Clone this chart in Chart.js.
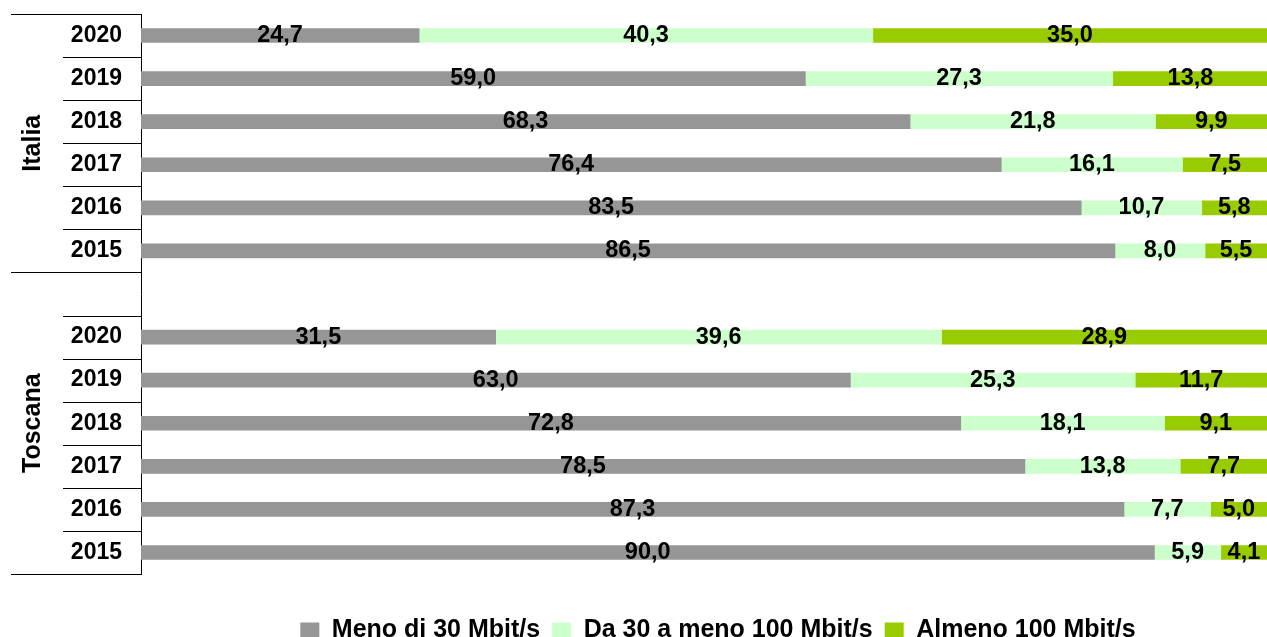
<!DOCTYPE html>
<html lang="it">
<head>
<meta charset="utf-8">
<title>Velocità di connessione</title>
<script src="https://cdn.jsdelivr.net/npm/chart.js@4/dist/chart.umd.min.js"></script>
<style>
  html, body { margin: 0; padding: 0; background: #ffffff; }
  #wrap { position: relative; width: 1267px; height: 637px; }
</style>
</head>
<body>
<div id="wrap"><canvas id="chart"></canvas></div>
<script>
// Row labels: Italia block, an empty spacer row, then Toscana block
const years = ['2020', '2019', '2018', '2017', '2016', '2015'];
const rowLabels = [...years, '', ...years];
const groupNames = ['Italia', 'Toscana'];

// Shares (%) by speed class; null on the spacer row
const meno30    = [24.7, 59.0, 68.3, 76.4, 83.5, 86.5, null, 31.5, 63.0, 72.8, 78.5, 87.3, 90.0];
const da30a100  = [40.3, 27.3, 21.8, 16.1, 10.7,  8.0, null, 39.6, 25.3, 18.1, 13.8,  7.7,  5.9];
const almeno100 = [35.0, 13.8,  9.9,  7.5,  5.8,  5.5, null, 28.9, 11.7,  9.1,  7.7,  5.0,  4.1];

const seriesNames = ['Meno di 30 Mbit/s', 'Da 30 a meno 100 Mbit/s', 'Almeno 100 Mbit/s'];
const seriesColors = ['#969696', '#CCFFCC', '#99CC00'];

const FONT = "'Liberation Sans', Arial, Helvetica, sans-serif";
Chart.defaults.font.family = FONT;
Chart.defaults.color = '#000000';

// Values printed in the middle of each segment, Italian decimal comma
const segmentLabels = {
  id: 'segmentLabels',
  afterDatasetsDraw(chart) {
    const ctx = chart.ctx;
    ctx.save();
    ctx.font = 'bold 23.5px ' + FONT;
    ctx.fillStyle = '#000000';
    ctx.textAlign = 'center';
    ctx.textBaseline = 'middle';
    chart.data.datasets.forEach((ds, di) => {
      const meta = chart.getDatasetMeta(di);
      meta.data.forEach((bar, i) => {
        const v = ds.data[i];
        if (v === null || v === undefined) return;
        const cx = (bar.x + bar.base) / 2;
        ctx.fillText(v.toFixed(1).replace('.', ','), cx, bar.y);
      });
    });
    ctx.restore();
  }
};

// Row separators on the left side and the rotated group names
const rowFrame = {
  id: 'rowFrame',
  afterLayout(chart) {
    // nudge the legend row a little to the right of the plot centre
    chart.legend.left += 14;
    chart.legend.right += 14;
  },
  afterDraw(chart) {
    const ctx = chart.ctx;
    const y = chart.scales.y;
    const axisX = chart.chartArea.left;
    const n = rowLabels.length;
    const groupEdges = [0, 6, n];
    ctx.save();
    ctx.strokeStyle = '#000000';
    ctx.lineWidth = 1;
    for (let k = 0; k <= n; k++) {
      const py = Math.round(y.getPixelForValue(k - 0.5)) + 0.5;
      const x0 = groupEdges.includes(k) ? 11 : 63;
      ctx.beginPath();
      ctx.moveTo(x0, py);
      ctx.lineTo(axisX, py);
      ctx.stroke();
    }
    // group names centred on their block of rows
    const spans = [[0, 6], [6, n]];
    ctx.font = 'bold 25px ' + FONT;
    ctx.fillStyle = '#000000';
    ctx.textAlign = 'center';
    ctx.textBaseline = 'middle';
    spans.forEach((s, gi) => {
      const top = y.getPixelForValue(s[0] - 0.5);
      const bottom = y.getPixelForValue(s[1] - 0.5);
      ctx.save();
      ctx.translate(33, (top + bottom) / 2);
      ctx.rotate(-Math.PI / 2);
      ctx.fillText(groupNames[gi], 0, 0);
      ctx.restore();
    });
    ctx.restore();
  }
};

new Chart(document.getElementById('chart'), {
  type: 'bar',
  data: {
    labels: rowLabels,
    datasets: seriesNames.map((name, i) => ({
      label: name,
      data: [meno30, da30a100, almeno100][i],
      backgroundColor: seriesColors[i],
      borderWidth: 0,
      barThickness: 14
    }))
  },
  options: {
    indexAxis: 'y',
    responsive: true,
    maintainAspectRatio: false,
    animation: false,
    layout: { padding: { top: 14, right: 0, left: 0, bottom: -16 } },
    scales: {
      x: {
        stacked: true,
        min: 0,
        max: 100,
        grid: { display: false },
        border: { display: false },
        ticks: { display: false },
        afterFit(scale) { scale.height = 32; }
      },
      y: {
        stacked: true,
        grid: { display: false },
        border: { display: true, color: '#000000', width: 1 },
        ticks: {
          padding: 11,
          color: '#000000',
          font: { size: 23, weight: 'bold', family: FONT }
        },
        afterFit(scale) {
          scale.width = 141;
          scale.paddingTop = 0;
          scale.paddingBottom = 0;
        }
      }
    },
    plugins: {
      legend: {
        position: 'bottom',
        fullSize: false,
        labels: {
          boxWidth: 19,
          boxHeight: 16,
          padding: 12,
          color: '#000000',
          font: { size: 25, weight: 'bold', family: FONT }
        }
      },
      tooltip: { enabled: false }
    }
  },
  plugins: [segmentLabels, rowFrame]
});
</script>
</body>
</html>
